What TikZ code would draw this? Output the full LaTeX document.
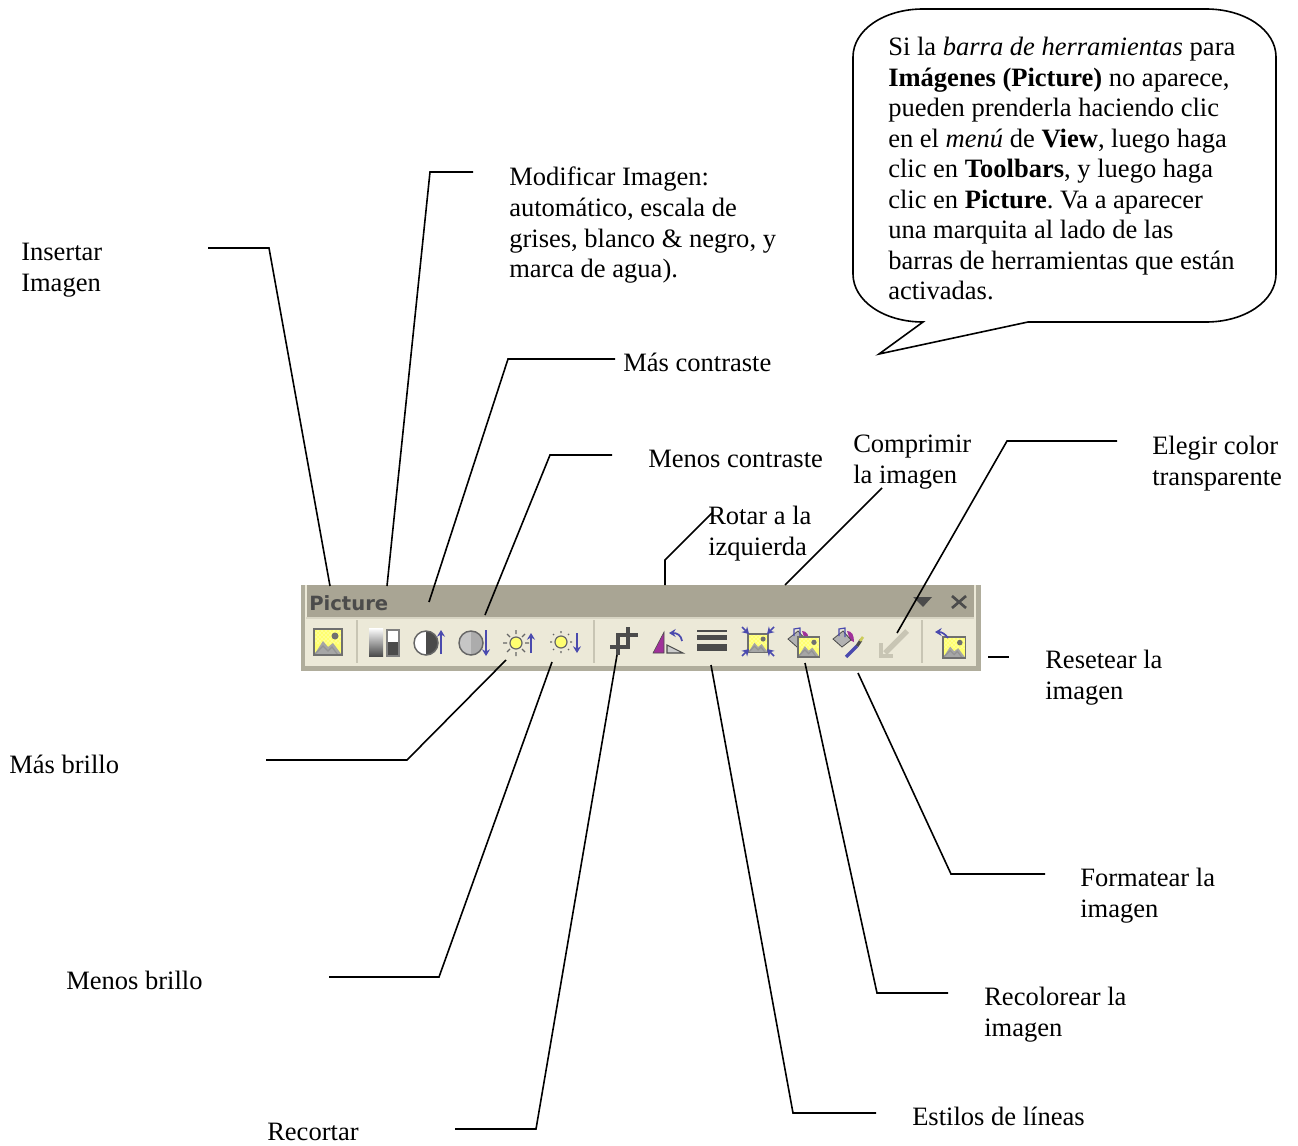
\documentclass[tikz,border=0pt]{standalone}
\usepackage{fontspec}
\usetikzlibrary{arrows.meta, patterns}
\setmainfont{Liberation Serif}
\newfontfamily\barfont{DejaVu Sans}
\frenchspacing
\definecolor{barra}{HTML}{A9A594}
\definecolor{cuerpo}{HTML}{ECE9D8}
\definecolor{borde}{HTML}{B0AD9C}
\definecolor{sepa}{HTML}{C8C5B4}
\definecolor{oscuro}{HTML}{4B4B4B}
\definecolor{azul}{HTML}{4A4AAE}
\definecolor{morado}{HTML}{A0309A}
\definecolor{amarillo}{HTML}{FFFF70}
% image icon: left, top, scale
\newcommand{\picicon}[3]{
\begin{scope}[shift={(#1,#2)},scale=#3]
\fill[amarillo] (0,0) rectangle (28,26);
\fill[pattern=crosshatch dots, pattern color=white] (0,0) rectangle (28,14);
\fill[gray!70] (0,26) -- (9,12) -- (14,18) -- (19,14) -- (28,26) -- cycle;
\draw[oscuro!60, line width=.9pt] (0,26) -- (9,17) -- (14,22) -- (18,18) -- (24,26);
\fill[gray!60!black!80] (21,7) circle (3.5);
\draw[oscuro!80, line width=1.1pt] (0,0) rectangle (28,26);
\end{scope}
}
% paint bucket: left, top
\newcommand{\bucket}[2]{
\begin{scope}[shift={(#1,#2)}]
\fill[morado] (14,3) .. controls (19,3) and (21,7) .. (21,14) -- (17,12) -- cycle;
\fill[gray!60, draw=oscuro, line width=.6pt] (0,11) -- (10,3) -- (18,12) -- (9,19) -- cycle;
\draw[azul, line width=.9pt] (6,8) -- (6,1) -- (12,0) -- (12,9);
\end{scope}
}
\begin{document}
\begin{tikzpicture}[x=.75pt, y=-.75pt]
\tikzstyle{etiqueta} = [anchor=north west, inner sep=0pt, align=left, font=\fontsize{19.9}{22.9}\selectfont, execute at begin node=\strut]
\tikzstyle{guia} = [draw=black, line width=1.2pt]
\tikzstyle{flecha azul} = [azul, line width=1.3pt, -{Stealth[length=5pt, width=6pt]}]
\tikzstyle{rayo} = [gray!80!black, line width=1pt]
\tikzstyle{separador} = [sepa, line width=1.3pt]
\useasboundingbox (0,0) rectangle (1298,1145);

% toolbar
\fill[borde] (301,585) rectangle (981,671);
\fill[cuerpo] (305,618) rectangle (976,666);
\fill[cuerpo] (305,585) rectangle (307,618);
\fill[cuerpo] (974,585) rectangle (976,618);
\fill[barra] (307,585) rectangle (974,618);
\fill[cuerpo!70!barra] (306,617) rectangle (974,619);
\node[inner sep=0pt, anchor=base west, text=oscuro, font=\barfont\bfseries\fontsize{14.7}{18}\selectfont] (titulo) at (309,610) {Picture};
\fill[oscuro] (913,597) -- (932,597) -- (923,607) -- cycle;
\draw[oscuro, line width=2pt] (952,596) -- (966,608) (966,596) -- (952,608);
\draw[separador] (357,620) -- (357,663);
\draw[separador] (594,620) -- (594,663);
\draw[separador] (922,620) -- (922,663);

% icons
\picicon{314}{629}{1}
\shade[top color=white, bottom color=oscuro] (369,628) rectangle (383,656);
\fill[white] (387,630) rectangle (399,642);
\fill[oscuro] (387,642) rectangle (399,656);
\draw[gray, line width=.8pt] (387,630) rectangle (399,656);
\fill[white] (426,631) arc[start angle=-90, end angle=-270, radius=12];
\fill[oscuro] (426,631) arc[start angle=-90, end angle=90, radius=12];
\draw[gray!80!black, line width=1.1pt] (426,643) circle (12);
\draw[flecha azul] (441,654) -- (441,630);
\fill[gray!45] (471,631) arc[start angle=-90, end angle=-270, radius=12];
\fill[gray!65] (471,631) arc[start angle=-90, end angle=90, radius=12];
\draw[gray!80!black, line width=1.1pt] (471,643) circle (12);
\draw[flecha azul] (486,630) -- (486,656);
\draw[rayo] (516,630) -- (516,634) (516,652) -- (516,656) (503,643) -- (507,643) (525,643) -- (529,643) (507,634) -- (510,637) (525,634) -- (522,637) (507,652) -- (510,649) (525,652) -- (522,649);
\draw[gray!80!black, fill=amarillo, line width=.9pt] (516,643) circle (6);
\draw[flecha azul] (531,653) -- (531,633);
\draw[rayo] (561,631) -- (561,633) (561,651) -- (561,653) (550,642) -- (552,642) (570,642) -- (572,642) (553,634) -- (554,635) (569,634) -- (568,635) (553,650) -- (554,649) (569,650) -- (568,649);
\draw[gray!80!black, fill=amarillo, line width=.9pt] (561,642) circle (6);
\draw[flecha azul] (577,633) -- (577,653);
\draw[oscuro, line width=2.6pt] (628,627) -- (628,647) -- (610,647);
\draw[oscuro, line width=2.6pt] (618,655) -- (618,635) -- (638,635);
\fill[morado, draw=oscuro, line width=.4pt] (653,653) -- (664,653) -- (664,632) -- cycle;
\fill[gray!40, draw=oscuro, line width=.8pt] (667,645) -- (667,653) -- (683,653) -- cycle;
\draw[flecha azul] (682,641) .. controls (681,635) and (677,633) .. (669,633);
\fill[oscuro] (697,630) rectangle (727,632);
\fill[oscuro] (697,635) rectangle (727,640);
\fill[oscuro] (697,644) rectangle (727,651);
\picicon{748}{634}{.72}
\draw[flecha azul] (742,627) -- (749,634);
\draw[flecha azul] (774,627) -- (767,634);
\draw[flecha azul] (742,656) -- (749,649);
\draw[flecha azul] (774,656) -- (767,649);
\bucket{788}{628}
\picicon{798}{637}{.76}
\bucket{833}{628}
\draw[azul, line width=2.6pt] (846,657) -- (857,646);
\draw[oscuro, line width=2.4pt] (857,646) -- (861,640);
\draw[amarillo!80!black, line width=2pt] (860,641) -- (863,637);
\draw[sepa, line width=4pt] (907,631) -- (885,653);
\draw[sepa, line width=2.4pt] (881,643) -- (881,656) -- (893,656);
\picicon{943}{637}{.8}
\draw[flecha azul] (948,638) .. controls (945,634) and (942,632) .. (935,632);

% speech bubble
\node[etiqueta] (nota) at (888,37) {Si la \textit{barra de herramientas} para\\
\textbf{Imágenes (Picture)} no aparece,\\
pueden prenderla haciendo clic\\
en el \textit{menú} de \textbf{View}, luego haga\\
clic en \textbf{Toolbars}, y luego haga\\
clic en \textbf{Picture}. Va a aparecer\\
una marquita al lado de las\\
barras de herramientas que están\\
activadas.};
\draw[guia] (923,9) -- (1206,9) .. controls (1245,9) and (1276,30) .. (1276,57) -- (1276,274) .. controls (1276,301) and (1245,322) .. (1206,322) -- (1028,322) -- (879,354) -- (923,322) .. controls (884,322) and (853,301) .. (853,274) -- (853,57) .. controls (853,30) and (884,9) .. (923,9) -- cycle;

% labels
\node[etiqueta] (insertar) at (21,243) {Insertar\\Imagen};
\node[etiqueta] (modificar) at (509,167) {Modificar Imagen:\\automático, escala de\\grises, blanco \& negro, y\\marca de agua).};
\node[etiqueta] (mascon) at (623,350) {Más contraste};
\node[etiqueta] (menoscon) at (648,446) {Menos contraste};
\node[etiqueta] (comprimir) at (853,435) {Comprimir\\la imagen};
\node[etiqueta] (rotar) at (708,506) {Rotar a la\\izquierda};
\node[etiqueta] (elegir) at (1152,436) {Elegir color\\transparente};
\node[etiqueta] (resetear) at (1045,650) {Resetear la\\imagen};
\node[etiqueta] (formatear) at (1080,868) {Formatear la\\imagen};
\node[etiqueta] (recolorear) at (984,987) {Recolorear la\\imagen};
\node[etiqueta] (estilos) at (912,1104) {Estilos de líneas};
\node[etiqueta] (recortar) at (267,1119) {Recortar};
\node[etiqueta] (menosbri) at (66,968) {Menos brillo};
\node[etiqueta] (masbri) at (9,752) {Más brillo};

% leader lines
\coordinate (ins a) at (208,248);
\coordinate (ins b) at (269,248);
\coordinate (ins c) at (330,586);
\coordinate (mod a) at (473,172);
\coordinate (mod b) at (430,172);
\coordinate (mod c) at (387,586);
\coordinate (mc a) at (615,359);
\coordinate (mc b) at (508,359);
\coordinate (mc c) at (429,602);
\coordinate (lc a) at (612,455);
\coordinate (lc b) at (550,455);
\coordinate (lc c) at (485,615);
\coordinate (rot a) at (712,513);
\coordinate (rot b) at (665,560);
\coordinate (rot c) at (665,585);
\coordinate (com a) at (882,488);
\coordinate (com b) at (785,585);
\coordinate (ele a) at (1117,441);
\coordinate (ele b) at (1007,441);
\coordinate (ele c) at (897,633);
\coordinate (res a) at (988,657);
\coordinate (res b) at (1009,657);
\coordinate (for a) at (1045,874);
\coordinate (for b) at (951,874);
\coordinate (for c) at (858,673);
\coordinate (rec a) at (948,993);
\coordinate (rec b) at (877,993);
\coordinate (rec c) at (805,663);
\coordinate (est a) at (876,1113);
\coordinate (est b) at (793,1113);
\coordinate (est c) at (711,665);
\coordinate (cor a) at (455,1129);
\coordinate (cor b) at (536,1129);
\coordinate (cor c) at (617,655);
\coordinate (mb a) at (329,977);
\coordinate (mb b) at (439,977);
\coordinate (mb c) at (552,662);
\coordinate (br a) at (266,760);
\coordinate (br b) at (407,760);
\coordinate (br c) at (506,660);

\draw[guia] (ins a) -- (ins b) -- (ins c);
\draw[guia] (mod a) -- (mod b) -- (mod c);
\draw[guia] (mc a) -- (mc b) -- (mc c);
\draw[guia] (lc a) -- (lc b) -- (lc c);
\draw[guia] (rot a) -- (rot b) -- (rot c);
\draw[guia] (com a) -- (com b);
\draw[guia] (ele a) -- (ele b) -- (ele c);
\draw[guia] (res a) -- (res b);
\draw[guia] (for a) -- (for b) -- (for c);
\draw[guia] (rec a) -- (rec b) -- (rec c);
\draw[guia] (est a) -- (est b) -- (est c);
\draw[guia] (cor a) -- (cor b) -- (cor c);
\draw[guia] (mb a) -- (mb b) -- (mb c);
\draw[guia] (br a) -- (br b) -- (br c);
\end{tikzpicture}
\end{document}
